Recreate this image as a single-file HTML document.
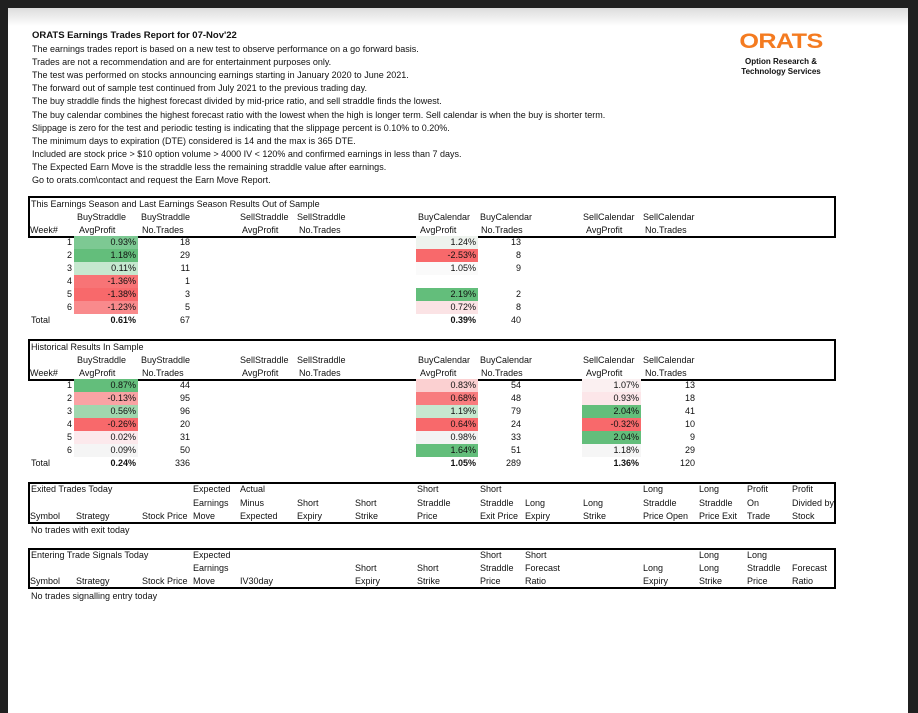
<!DOCTYPE html>
<html><head><meta charset="utf-8"><style>
html,body{margin:0;padding:0;}
body{width:918px;height:713px;background:#202020;position:relative;overflow:hidden;font-family:"Liberation Sans",Arial,sans-serif;color:#111;}
#page{position:absolute;left:8px;top:8px;width:900px;height:705px;background:#fff;overflow:hidden;}
#shade{position:absolute;left:0;top:0;width:900px;height:18px;background:linear-gradient(#dcdcdc,#fff);}
.t{position:absolute;font-size:9px;line-height:12px;white-space:nowrap;}
.box{position:absolute;border:2px solid #000;box-sizing:border-box;}
.cell{position:absolute;height:13px;}
</style></head><body>
<div id="page"><div id="shade"></div></div>
<script>
// Data
const weeks=[1,2,3,4,5,6];
const oosBuyStraddleProfit=[0.93,1.18,0.11,-1.36,-1.38,-1.23];
const oosBuyStraddleTrades=[18,29,11,1,3,5];
const oosBuyCalendarProfit=[1.24,-2.53,1.05,null,2.19,0.72];
const oosBuyCalendarTrades=[13,8,9,null,2,8];
const oosTotals=["0.61%","67","0.39%","40"];
const histBuyStraddleProfit=[0.87,-0.13,0.56,-0.26,0.02,0.09];
const histBuyStraddleTrades=[44,95,96,20,31,50];
const histBuyCalendarProfit=[0.83,0.68,1.19,0.64,0.98,1.64];
const histBuyCalendarTrades=[54,48,79,24,33,51];
const histSellCalendarProfit=[1.07,0.93,2.04,-0.32,2.04,1.18];
const histSellCalendarTrades=[13,18,41,10,9,29];
const histTotals=["0.24%","336","1.05%","289","1.36%","120"];
// Fill shades (presentational)
const oosBSColors=["#7dc993","#63be7b","#c6e8cf","#f87476","#f8696b","#f98a8c"];
const oosBCColors=["#eef3ee","#f8696b","#fafafa",null,"#63be7b","#fbe3e5"];
const histBSColors=["#63be7b","#f9a3a4","#a0d7ae","#f8696b","#fce9ec","#f5f5f5"];
const histBCColors=["#fbd0d1","#f87c7e","#c6e8cf","#f8696b","#f3f3f3","#63be7b"];
const histSCColors=["#fbf0f1","#fce6e9","#63be7b","#f8696b","#63be7b","#f6f6f6"];
const introLines=["The earnings trades report is based on a new test to observe performance on a go forward basis.",
"Trades are not a recommendation and are for entertainment purposes only.",
"The test was performed on stocks announcing earnings starting in January 2020 to June 2021.",
"The forward out of sample test continued from July 2021 to the previous trading day.",
"The buy straddle finds the highest forecast divided by mid-price ratio, and sell straddle finds the lowest.",
"The buy calendar combines the highest forecast ratio with the lowest when the high is longer term. Sell calendar is when the buy is shorter term.",
"Slippage is zero for the test and periodic testing is indicating that the slippage percent is 0.10% to 0.20%.",
"The minimum days to expiration (DTE) considered is 14 and the max is 365 DTE.",
"Included are stock price > $10 option volume > 4000 IV < 120% and confirmed earnings in less than 7 days.",
"The Expected Earn Move is the straddle less the remaining straddle value after earnings.",
"Go to orats.com\\contact and request the Earn Move Report."];

const P=document.getElementById('page');
const OX=8,OY=8;
function t(x,y,s,name,opt){
  const el=document.createElement('div');
  el.className='t';
  el.textContent=s;
  
  
  el.style.top=(y-OY-6)+'px';
  if(opt&&opt.right){el.style.right=(900-(opt.right-OX))+'px';el.style.textAlign='right';}
  else el.style.left=(x-OX)+'px';
  if(opt&&opt.bold)el.style.fontWeight='bold';
  if(opt&&opt.size)el.style.fontSize=opt.size+'px';
  P.appendChild(el);return el;
}
function box(x,y,w,h,name){
  const el=document.createElement('div');
  el.className='box';
  
  
  el.style.left=(x-OX)+'px';el.style.top=(y-OY)+'px';el.style.width=w+'px';el.style.height=h+'px';
  P.appendChild(el);
}
function cell(x1,x2,y,color,name){
  if(!color)return;
  const el=document.createElement('div');
  el.className='cell';
  
  
  el.style.left=(x1-OX)+'px';el.style.width=(x2-x1)+'px';el.style.top=(y-OY-6.5)+'px';el.style.background=color;
  P.appendChild(el);
}
const pct=v=>v.toFixed(2)+'%';

// Header text
t(32,36,"ORATS Earnings Trades Report for 07-Nov'22",'report-title',{bold:true,size:9.5});
introLines.forEach((s,i)=>t(32,49+i*13.1,s,'intro-line'));

// Logo
const logo=document.createElement('div');


logo.style.cssText='position:absolute;left:731px;top:23px;width:84px;text-align:center;';
logo.innerHTML='<div style="color:#f47b20;font-weight:bold;font-size:21px;line-height:22px;letter-spacing:-0.5px;transform:scaleX(1.2)">ORATS</div><div style="font-size:8px;font-weight:bold;line-height:10px;margin-top:4px">Option Research &amp;<br>Technology Services</div>';
P.appendChild(logo);

// Results tables
function resultsTable(top,title,prefix,bsP,bsT,bsC,bcP,bcT,bcC,scP,scT,scC,totals){
  box(28,top,808,42,prefix+'-header-box');
  t(31,top+8,title,prefix+'-title');
  const h1=top+21,h2=top+34;
  t(30,h2,'Week#',prefix+'-week-header');
  [[77,'BuyStraddle',79,'AvgProfit'],[141,'BuyStraddle',142,'No.Trades'],[240,'SellStraddle',242,'AvgProfit'],[297,'SellStraddle',299,'No.Trades'],
   [418,'BuyCalendar',420,'AvgProfit'],[480,'BuyCalendar',481,'No.Trades'],[583,'SellCalendar',586,'AvgProfit'],[643,'SellCalendar',645,'No.Trades']]
   .forEach(h=>{t(h[0],h1,h[1],prefix+'-col-header');t(h[2],h2,h[3],prefix+'-col-header');});
  const r0=top+46;
  weeks.forEach((w,i)=>{
    const y=r0+i*13;
    t(0,y,String(w),prefix+'-week-'+w,{right:72});
    cell(74,138,y,bsC[i],prefix+'-buystraddle-cell');
    t(0,y,pct(bsP[i]),prefix+'-buystraddle-profit',{right:136});
    t(0,y,String(bsT[i]),prefix+'-buystraddle-trades',{right:190});
    if(bcP[i]!==null){cell(416,478,y,bcC[i],prefix+'-buycalendar-cell');
      t(0,y,pct(bcP[i]),prefix+'-buycalendar-profit',{right:476});
      t(0,y,String(bcT[i]),prefix+'-buycalendar-trades',{right:521});}
    if(scP&&scP[i]!==null){cell(582,641,y,scC[i],prefix+'-sellcalendar-cell');
      t(0,y,pct(scP[i]),prefix+'-sellcalendar-profit',{right:639});
      t(0,y,String(scT[i]),prefix+'-sellcalendar-trades',{right:695});}
  });
  const yt=r0+6*13;
  t(31,yt,'Total',prefix+'-total-label');
  t(0,yt,totals[0],prefix+'-total-buystraddle-profit',{right:136,bold:true});
  t(0,yt,totals[1],prefix+'-total-buystraddle-trades',{right:190});
  t(0,yt,totals[2],prefix+'-total-buycalendar-profit',{right:476,bold:true});
  t(0,yt,totals[3],prefix+'-total-buycalendar-trades',{right:521});
  if(totals.length>4){
    t(0,yt,totals[4],prefix+'-total-sellcalendar-profit',{right:639,bold:true});
    t(0,yt,totals[5],prefix+'-total-sellcalendar-trades',{right:695});
  }
}
resultsTable(196,'This Earnings Season and Last Earnings Season Results Out of Sample','oos',
  oosBuyStraddleProfit,oosBuyStraddleTrades,oosBSColors,oosBuyCalendarProfit,oosBuyCalendarTrades,oosBCColors,null,null,null,oosTotals);
resultsTable(339,'Historical Results In Sample','hist',
  histBuyStraddleProfit,histBuyStraddleTrades,histBSColors,histBuyCalendarProfit,histBuyCalendarTrades,histBCColors,histSellCalendarProfit,histSellCalendarTrades,histSCColors,histTotals);

// Exited trades
box(28,482,808,42,'exited-header-box');
const exitCols=[[30,'','','Symbol'],[76,'','','Strategy'],[142,'','','Stock Price'],[193,'Expected','Earnings','Move'],[240,'Actual','Minus','Expected'],
 [297,'','Short','Expiry'],[355,'','Short','Strike'],[417,'Short','Straddle','Price'],[480,'Short','Straddle','Exit Price'],[525,'','Long','Expiry'],
 [583,'','Long','Strike'],[643,'Long','Straddle','Price Open'],[699,'Long','Straddle','Price Exit'],[747,'Profit','On','Trade'],[792,'Profit','Divided by','Stock']];
t(31,489,'Exited Trades Today','exited-title');
exitCols.forEach(c=>{if(c[1])t(c[0],489,c[1],'exited-col-header');if(c[2])t(c[0],503,c[2],'exited-col-header');t(c[0],516,c[3],'exited-col-header');});
t(31,530,'No trades with exit today','exited-empty-note');

// Entering trades
box(28,548,808,41,'entering-header-box');
const entCols=[[30,'','','Symbol'],[76,'','','Strategy'],[142,'','','Stock Price'],[193,'Expected','Earnings','Move'],[240,'','','IV30day'],
 [355,'','Short','Expiry'],[417,'','Short','Strike'],[480,'Short','Straddle','Price'],[525,'Short','Forecast','Ratio'],[643,'','Long','Expiry'],
 [699,'Long','Long','Strike'],[747,'Long','Straddle','Price'],[792,'','Forecast','Ratio']];
t(31,555,'Entering Trade Signals Today','entering-title');
entCols.forEach(c=>{if(c[1])t(c[0],555,c[1],'entering-col-header');if(c[2])t(c[0],568,c[2],'entering-col-header');t(c[0],581,c[3],'entering-col-header');});
t(31,596,'No trades signalling entry today','entering-empty-note');
</script>
</body></html>
